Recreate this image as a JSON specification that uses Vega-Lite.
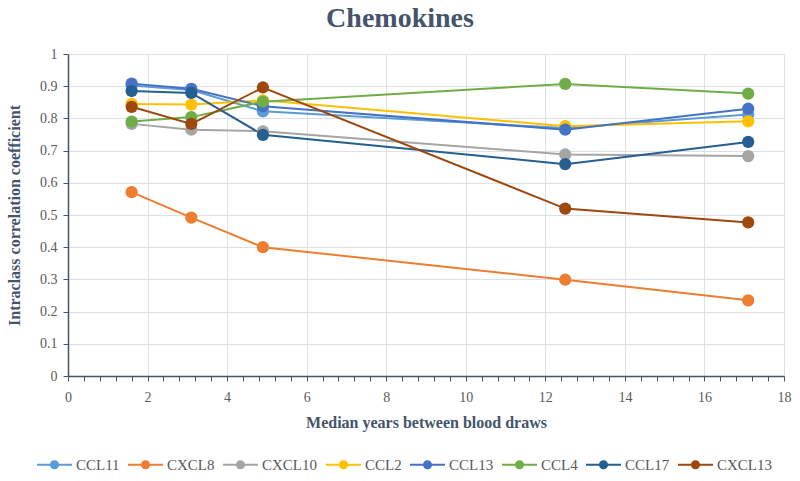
{
  "$schema": "https://vega.github.io/schema/vega-lite/v6.json",
  "autosize": "none",
  "width": 716,
  "height": 322,
  "padding": {"left": 68, "top": 54, "right": 16, "bottom": 105},
  "title": {"text": "Chemokines", "font": "Liberation Serif", "fontSize": 28, "fontWeight": "bold", "color": "#44546A", "offset": 14, "dx": -26},
  "data": {
    "values": [
      {"chemokine": "CCL11", "years": 1.6, "icc": 0.902},
      {"chemokine": "CCL11", "years": 3.1, "icc": 0.888},
      {"chemokine": "CCL11", "years": 4.9, "icc": 0.822},
      {"chemokine": "CCL11", "years": 12.5, "icc": 0.770},
      {"chemokine": "CCL11", "years": 17.1, "icc": 0.812},
      {"chemokine": "CXCL8", "years": 1.6, "icc": 0.571},
      {"chemokine": "CXCL8", "years": 3.1, "icc": 0.492},
      {"chemokine": "CXCL8", "years": 4.9, "icc": 0.400},
      {"chemokine": "CXCL8", "years": 12.5, "icc": 0.299},
      {"chemokine": "CXCL8", "years": 17.1, "icc": 0.235},
      {"chemokine": "CXCL10", "years": 1.6, "icc": 0.783},
      {"chemokine": "CXCL10", "years": 3.1, "icc": 0.765},
      {"chemokine": "CXCL10", "years": 4.9, "icc": 0.760},
      {"chemokine": "CXCL10", "years": 12.5, "icc": 0.688},
      {"chemokine": "CXCL10", "years": 17.1, "icc": 0.683},
      {"chemokine": "CCL2", "years": 1.6, "icc": 0.845},
      {"chemokine": "CCL2", "years": 3.1, "icc": 0.843},
      {"chemokine": "CCL2", "years": 4.9, "icc": 0.856},
      {"chemokine": "CCL2", "years": 12.5, "icc": 0.776},
      {"chemokine": "CCL2", "years": 17.1, "icc": 0.791},
      {"chemokine": "CCL13", "years": 1.6, "icc": 0.908},
      {"chemokine": "CCL13", "years": 3.1, "icc": 0.892},
      {"chemokine": "CCL13", "years": 4.9, "icc": 0.838},
      {"chemokine": "CCL13", "years": 12.5, "icc": 0.765},
      {"chemokine": "CCL13", "years": 17.1, "icc": 0.830},
      {"chemokine": "CCL4", "years": 1.6, "icc": 0.790},
      {"chemokine": "CCL4", "years": 3.1, "icc": 0.804},
      {"chemokine": "CCL4", "years": 4.9, "icc": 0.852},
      {"chemokine": "CCL4", "years": 12.5, "icc": 0.907},
      {"chemokine": "CCL4", "years": 17.1, "icc": 0.877},
      {"chemokine": "CCL17", "years": 1.6, "icc": 0.885},
      {"chemokine": "CCL17", "years": 3.1, "icc": 0.879},
      {"chemokine": "CCL17", "years": 4.9, "icc": 0.749},
      {"chemokine": "CCL17", "years": 12.5, "icc": 0.658},
      {"chemokine": "CCL17", "years": 17.1, "icc": 0.727},
      {"chemokine": "CXCL13", "years": 1.6, "icc": 0.836},
      {"chemokine": "CXCL13", "years": 3.1, "icc": 0.783},
      {"chemokine": "CXCL13", "years": 4.9, "icc": 0.896},
      {"chemokine": "CXCL13", "years": 12.5, "icc": 0.520},
      {"chemokine": "CXCL13", "years": 17.1, "icc": 0.477}
    ]
  },
  "mark": {"type": "line", "strokeWidth": 2, "point": {"size": 150, "filled": true, "opacity": 1}},
  "encoding": {
    "x": {
      "field": "years", "type": "quantitative",
      "scale": {"domain": [0, 18], "nice": false, "zero": true},
      "axis": {
        "title": "Median years between blood draws",
        "values": [0, 0.4, 0.8, 1.2, 1.6, 2, 2.4, 2.8, 3.2, 3.6, 4, 4.4, 4.8, 5.2, 5.6, 6, 6.4, 6.8, 7.2, 7.6, 8, 8.4, 8.8, 9.2, 9.6, 10, 10.4, 10.8, 11.2, 11.6, 12, 12.4, 12.8, 13.2, 13.6, 14, 14.4, 14.8, 15.2, 15.6, 16, 16.4, 16.8, 17.2, 17.6, 18],
        "format": "~g",
        "labelExpr": "datum.value % 2 === 0 ? datum.label : ''",
        "labelOverlap": false,
        "labelFlush": false,
        "labelFont": "Liberation Serif",
        "gridOpacity": {"condition": {"test": "datum.value % 2 === 0 && datum.value > 0", "value": 1}, "value": 0},
        "labelPadding": 9,
        "titlePadding": 10
      }
    },
    "y": {
      "field": "icc", "type": "quantitative",
      "scale": {"domain": [0, 1], "nice": false},
      "axis": {
        "title": "Intraclass correlation coefficient",
        "values": [0, 0.1, 0.2, 0.3, 0.4, 0.5, 0.6, 0.7, 0.8, 0.9, 1],
        "format": ".1~f",
        "labelFont": "Liberation Serif",
        "labelPadding": 6,
        "titlePadding": 17
      }
    },
    "color": {
      "field": "chemokine", "type": "nominal",
      "scale": {
        "domain": ["CCL11", "CXCL8", "CXCL10", "CCL2", "CCL13", "CCL4", "CCL17", "CXCL13"],
        "range": ["#5B9BD5", "#ED7D31", "#A5A5A5", "#FFC000", "#4472C4", "#70AD47", "#255E91", "#9E480E"]
      },
      "legend": {
        "orient": "none",
        "legendX": -31,
        "legendY": 393,
        "direction": "horizontal",
        "columns": 8,
        "title": null,
        "symbolType": "M-1,-0.06L-0.22,-0.06L-0.22,0.06L-1,0.06Z M0.22,-0.06L1,-0.06L1,0.06L0.22,0.06Z M0.26,0A0.26,0.26,0,1,1,-0.26,0A0.26,0.26,0,1,1,0.26,0Z",
        "symbolSize": 1225,
        "symbolStrokeWidth": 0,
        "labelFont": "Liberation Serif",
        "labelFontSize": 15,
        "labelColor": "#595959",
        "columnPadding": 8,
        "labelOffset": 4
      }
    }
  },
  "config": {
    "view": {"stroke": null},
    "axis": {
      "labelFont": "Liberation Serif",
      "labelFontSize": 14,
      "labelColor": "#595959",
      "titleFont": "Liberation Serif",
      "titleFontSize": 16,
      "titleFontWeight": "bold",
      "titleColor": "#44546A",
      "domainColor": "#44546A",
      "domainWidth": 1.5,
      "tickColor": "#44546A",
      "tickSize": 5,
      "tickWidth": 1,
      "gridColor": "#DDE1E7",
      "gridWidth": 1
    }
  }
}
